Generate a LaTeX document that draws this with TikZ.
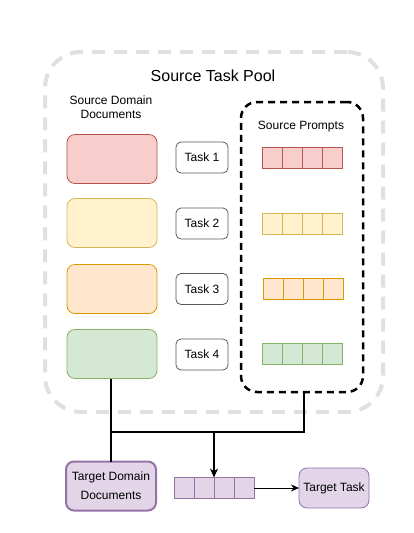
\documentclass[tikz,border=0pt]{standalone}
\usepackage{fontspec}
\setmainfont{Liberation Sans}
\usetikzlibrary{arrows.meta,calc}
\definecolor{redF}{HTML}{F8CECC}\definecolor{redS}{HTML}{B85450}
\definecolor{yelF}{HTML}{FFF2CC}\definecolor{yelS}{HTML}{D6B656}
\definecolor{oraF}{HTML}{FFE6CC}\definecolor{oraS}{HTML}{D79B00}
\definecolor{grnF}{HTML}{D5E8D4}\definecolor{grnS}{HTML}{82B366}
\definecolor{purF}{HTML}{E1D5E7}\definecolor{purS}{HTML}{9673A6}
\definecolor{poolgray}{HTML}{E0E0E0}
\begin{document}
\begin{tikzpicture}[x=1pt,y=-1pt,
  every node/.style={inner sep=0pt,outer sep=0pt,font=\fontsize{12}{14}\selectfont},
  pool/.style={draw=poolgray,line width=4pt,dash pattern=on 13pt off 9pt,rounded corners=36pt,minimum width=338pt,minimum height=360pt},
  promptgroup/.style={draw=black,line width=2.5pt,dash pattern=on 7pt off 5pt,rounded corners=16pt,minimum width=122pt,minimum height=290pt},
  doc/.style 2 args={draw=#2,fill=#1,rounded corners=8pt,minimum width=90pt,minimum height=49pt,line width=0.8pt},
  taskbox/.style={draw=black!65,rounded corners=5pt,minimum width=52pt,minimum height=31pt,line width=0.8pt},
  prompt/.style 2 args={draw=#2,fill=#1,minimum width=80pt,minimum height=21pt,line width=0.8pt,
    path picture={\foreach \i in {1,2,3}{\draw[#2,line width=0.8pt] ($(path picture bounding box.north west)+(\i*20,0)$) -- ($(path picture bounding box.south west)+(\i*20,0)$);}}},
  conn/.style={line width=1.8pt},
  arr/.style={-{Stealth[length=9pt,width=8pt]}}
]
\useasboundingbox (0,0) rectangle (413,533);
\node[pool] (pool) at (214,232) {};
\node (pooltitle) at (213,76) {\fontsize{16}{19}\selectfont Source Task Pool};
\node[promptgroup] (sp) at (302,247) {};
\node[align=center,font=\fontsize{12}{14}\selectfont] (sdd) at (111,107) {Source Domain\\Documents};
\node (spl) at (301,127) {Source Prompts};

\node[doc={redF}{redS}] (d1) at (112,159) {};
\node[doc={yelF}{yelS}] (d2) at (112,223) {};
\node[doc={oraF}{oraS}] (d3) at (112,289) {};
\node[doc={grnF}{grnS}] (d4) at (112,354) {};

\node[taskbox] (t1) at (202,157.5) {Task 1};
\node[taskbox] (t2) at (202,223.5) {Task 2};
\node[taskbox] (t3) at (202,289) {Task 3};
\node[taskbox] (t4) at (202,354.5) {Task 4};

\node[prompt={redF}{redS}] (p1) at (302,157.5) {};
\node[prompt={yelF}{yelS}] (p2) at (302,223.5) {};
\node[prompt={oraF}{oraS}] (p3) at (303,288.5) {};
\node[prompt={grnF}{grnS}] (p4) at (302,353.5) {};

\node[doc={purF}{purS},line width=2pt,align=center,font=\fontsize{12}{19}\selectfont] (td) at (111,486) {Target Domain\\Documents};
\node[prompt={purF}{purS}] (tp) at (214,488) {};
\node[draw=purS,fill=purF,rounded corners=8pt,minimum width=70pt,minimum height=40pt,line width=0.8pt] (tt) at (334,488) {Target Task};

\coordinate (j1) at (304,432);
\coordinate (j2) at (112,432);
\coordinate (j3) at (214,432);
\draw[line width=1.5pt] (d4.south -| 111,0) -- (td.north -| 111,0);
\draw[conn] (sp.south -| j1) -- (j1) -- (j2);
\draw[conn,arr] (j3) -- (tp.north);
\draw[line width=1pt,-{Stealth[length=8pt,width=7pt]}] (tp.east) -- (tt.west);
\end{tikzpicture}
\end{document}
